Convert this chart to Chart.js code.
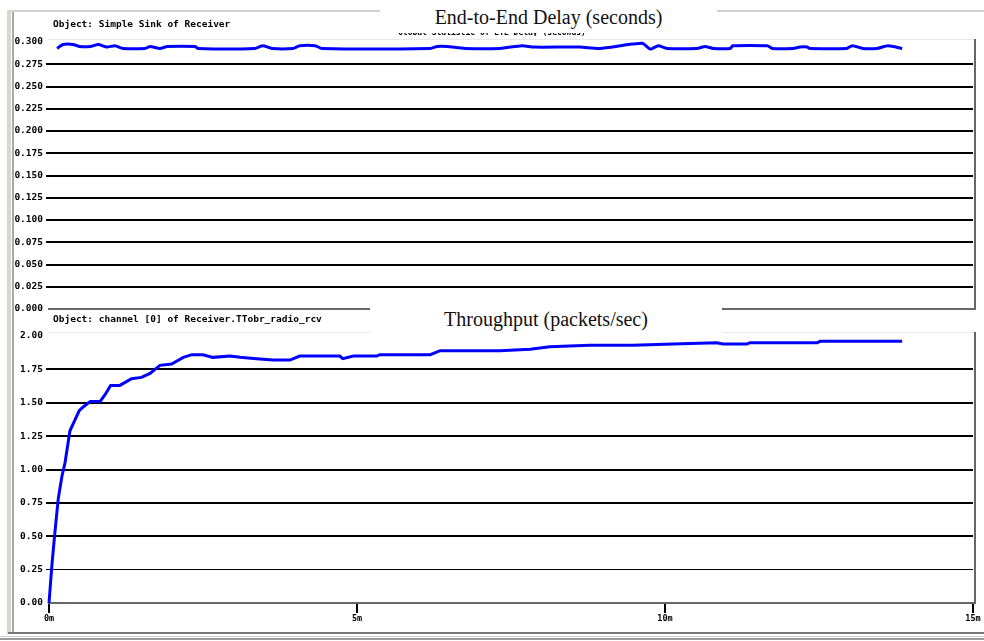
<!DOCTYPE html>
<html>
<head>
<meta charset="utf-8">
<script src="https://cdn.jsdelivr.net/npm/chart.js@4.4.1/dist/chart.umd.min.js"></script>
<style>
  body { margin: 0; background: #fff; }
  #page { position: relative; width: 984px; height: 641px; overflow: hidden; background: #fff; }
  .abs { position: absolute; }
  canvas { position: absolute; left: 0; }
  .obj { font: bold 9.5px "DejaVu Sans Mono", monospace; color: #000; white-space: nowrap; }
  .ttl { font: 20px "Liberation Serif", serif; color: #111; background: #fff; text-align: center; white-space: nowrap; }
</style>
</head>
<body>
<div id="page">
  <!-- window frame -->
  <div class="abs" style="left:8px;top:10px;width:976px;height:2px;background:#d0d0d0"></div>
  <div class="abs" style="left:7px;top:10px;width:4px;height:624px;background:#d8d6d0"></div>
  <div class="abs" style="left:12px;top:12px;width:2px;height:621px;background:#a8a8a8"></div>
  <div class="abs" style="left:8px;top:632px;width:976px;height:2px;background:#777"></div>
  <div class="abs" style="left:0px;top:636px;width:984px;height:1px;background:#ccc"></div>
  <div class="abs" style="left:0px;top:638px;width:984px;height:2px;background:#999"></div>

  <canvas id="delayChart" width="984" height="320" style="top:0px"></canvas>
  <canvas id="tputChart" width="984" height="341" style="top:300px"></canvas>

  <!-- panel borders -->
  <div class="abs" style="left:48px;top:39px;width:928px;height:1px;background:#e8e8e8"></div>
  <div class="abs" style="left:974px;top:39px;width:2px;height:271px;background:#666"></div>
  <div class="abs" style="left:48px;top:308px;width:928px;height:2px;background:#666"></div>
  <div class="abs" style="left:48px;top:332px;width:928px;height:1px;background:#e8e8e8"></div>
  <div class="abs" style="left:974px;top:332px;width:2px;height:272px;background:#666"></div>

  <!-- titles -->
  <div class="abs ttl" style="left:380px;top:5px;width:337px;height:24px;line-height:24px">End-to-End Delay (seconds)</div>
  <div class="abs" style="left:398px;top:33px;width:225px;height:3px;overflow:hidden">
    <div class="obj" style="margin-top:-5px;font-size:8px">Global Statistic of ETE Delay (seconds)</div>
  </div>
  <div class="abs ttl" style="left:370px;top:305px;width:352px;height:28px;line-height:28px">Throughput (packets/sec)</div>
  <div class="abs obj" style="left:53px;top:18px">Object: Simple Sink of Receiver</div>
  <div class="abs obj" style="left:53px;top:313px">Object: channel [0] of Receiver.TTobr_radio_rcv</div>
</div>

<script>
// time in minutes
let delayTime = [0.13, 0.23, 0.39, 0.50, 0.67, 0.80, 0.94, 1.07, 1.20, 1.56, 1.64, 1.80, 1.92, 2.37, 2.42, 3.34, 3.47, 3.62, 3.96, 4.07, 4.32, 4.43,
  6.19, 6.30, 6.46, 6.75, 7.32, 7.68, 7.87, 8.62, 8.94, 9.63, 9.76, 9.89, 10.03, 10.52, 10.65, 10.78, 11.06, 11.10, 11.66, 11.74, 12.08, 12.19,
  12.31, 12.35, 12.95, 13.04, 13.21, 13.44, 13.62, 13.85];
let delayValue = [0.2928, 0.2972, 0.2972, 0.2949, 0.2949, 0.2972, 0.2943, 0.2958, 0.2928, 0.2928, 0.2949, 0.2928, 0.2949, 0.2949, 0.2928, 0.2928, 0.2958, 0.2928, 0.2928, 0.2958, 0.2958, 0.2928,
  0.2928, 0.2949, 0.2949, 0.2928, 0.2928, 0.2958, 0.2943, 0.2943, 0.2928, 0.2985, 0.2920, 0.2958, 0.2928, 0.2928, 0.2949, 0.2928, 0.2928, 0.2958, 0.2958, 0.2928, 0.2928, 0.2943,
  0.2943, 0.2928, 0.2928, 0.2958, 0.2928, 0.2928, 0.2958, 0.2928];

let tputTime = [0, 0.05, 0.10, 0.15, 0.21, 0.26, 0.34, 0.42, 0.49, 0.56, 0.67, 0.83, 0.91, 1.00, 1.15, 1.34, 1.50, 1.64, 1.80, 1.99, 2.18, 2.32, 2.50, 2.66, 2.94, 3.10, 3.37, 3.64, 3.91, 4.07,
  4.72, 4.77, 4.94, 5.32, 5.37, 6.19, 6.35, 7.32, 7.81, 8.13, 8.78, 9.48, 10.13, 10.84, 10.94, 11.33, 11.38, 12.47, 12.52, 13.85];
let tputValue = [0, 0.30, 0.55, 0.78, 0.95, 1.05, 1.29, 1.37, 1.44, 1.47, 1.51, 1.51, 1.56, 1.63, 1.63, 1.68, 1.69, 1.72, 1.78, 1.79, 1.84, 1.86, 1.86, 1.84, 1.85, 1.84, 1.83, 1.82, 1.82, 1.85,
  1.85, 1.83, 1.85, 1.85, 1.86, 1.86, 1.89, 1.89, 1.90, 1.92, 1.93, 1.93, 1.94, 1.95, 1.94, 1.94, 1.95, 1.95, 1.96, 1.96];

let xTicks = [0, 5, 10, 15];
let xTickLabels = ["0m", "5m", "10m", "15m"];

const tickFont = { family: "DejaVu Sans Mono", size: 9.5, weight: "bold" };

function toPoints(xs, ys) {
  return xs.map((x, i) => ({ x: x, y: ys[i] }));
}

function lineSet(xs, ys, tension) {
  return {
    data: toPoints(xs, ys),
    borderColor: "#0000ff",
    borderWidth: 3,
    pointRadius: 0,
    tension: tension,
    fill: false,
    clip: false,
  };
}

//top chart: delay
new Chart(document.getElementById("delayChart"), {
  type: "line",
  data: { datasets: [lineSet(delayTime, delayValue, 0.2)] },
  options: {
    responsive: false,
    animation: false,
    layout: { padding: { left: 0, right: 11, top: 42, bottom: 11 } },
    plugins: { legend: { display: false }, tooltip: { enabled: false } },
    scales: {
      x: { type: "linear", min: 0, max: 15, display: false },
      y: {
        min: 0,
        max: 0.3,
        afterFit: (s) => { s.width = 49; },
        border: { display: false },
        grid: {
          tickLength: 3,
          lineWidth: 2,
          color: (c) => (c.tick && (c.tick.value > 0.299 || c.tick.value < 0.001) ? "rgba(0,0,0,0)" : "#000"),
        },
        ticks: {
          stepSize: 0.025,
          padding: 3,
          color: "#000",
          font: tickFont,
          callback: (v) => v.toFixed(3),
        },
      },
    },
  },
});

//bottom chart: throughput
new Chart(document.getElementById("tputChart"), {
  type: "line",
  data: { datasets: [lineSet(tputTime, tputValue, 0)] },
  options: {
    responsive: false,
    animation: false,
    layout: { padding: { left: 0, right: 11, top: 36, bottom: 0 } },
    plugins: { legend: { display: false }, tooltip: { enabled: false } },
    scales: {
      x: {
        type: "linear",
        min: 0,
        max: 15,
        afterFit: (s) => { s.height = 38; },
        afterBuildTicks: (s) => { s.ticks = xTicks.map((v) => ({ value: v })); },
        border: { display: true, color: "#666", width: 2 },
        grid: { drawOnChartArea: false, tickLength: 10, lineWidth: 2, color: "#000" },
        ticks: {
          padding: 1,
          color: "#000",
          font: { family: "DejaVu Sans Mono", size: 8.5, weight: "bold" },
          maxRotation: 0,
          callback: (v) => xTickLabels[xTicks.indexOf(v)],
        },
      },
      y: {
        min: 0,
        max: 2,
        afterFit: (s) => { s.width = 49; },
        border: { display: false },
        grid: {
          tickLength: 3,
          lineWidth: (c) => (c.tick && Math.abs(c.tick.value - 0.25) < 0.001 ? 1 : 2),
          color: (c) => (c.tick && (c.tick.value > 1.99 || c.tick.value < 0.001) ? "rgba(0,0,0,0)" : "#000"),
        },
        ticks: {
          stepSize: 0.25,
          padding: 3,
          color: "#000",
          font: tickFont,
          callback: (v) => v.toFixed(2),
        },
      },
    },
  },
});
</script>
</body>
</html>
